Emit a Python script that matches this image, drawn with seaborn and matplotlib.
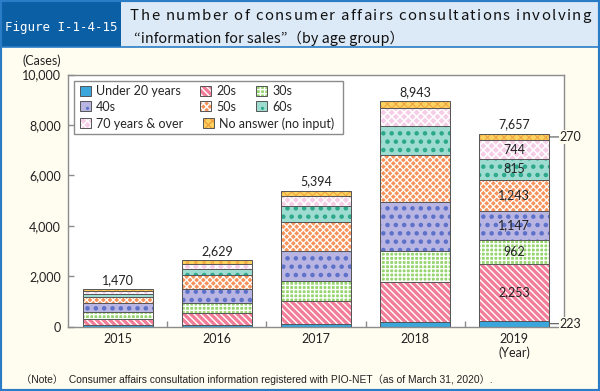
import numpy as np
import pandas as pd
import matplotlib
matplotlib.use("Agg")
import matplotlib.pyplot as plt
import matplotlib.patches as mpatches
from matplotlib.colors import to_rgba
from matplotlib.font_manager import FontProperties
from matplotlib.textpath import TextToPath
import seaborn as sns

# ---------------- data ----------------
years = ["2015", "2016", "2017", "2018", "2019"]
totals = [1470, 2629, 5394, 8943, 7657]
under20 = [50, 60, 100, 170, 223]
age20s = [260, 465, 915, 1600, 2253]
age30s = [267, 400, 795, 1245, 962]
age40s = [338, 580, 1190, 1910, 1147]
age50s = [270, 530, 1155, 1885, 1243]
age60s = [107, 265, 635, 1135, 815]
age70plus = [108, 180, 400, 730, 744]
no_answer = [70, 149, 204, 268, 270]
series_names = ["Under 20 years", "20s", "30s", "40s", "50s", "60s",
                "70 years & over", "No answer (no input)"]
yticks = [0, 2000, 4000, 6000, 8000, 10000]

# ---------------- style ----------------
CREAM = "#fffdf0"
EDGE = "#555555"
styles = {
    "Under 20 years":       ("#3aa6dc", None, "#3aa6dc", 1.0),
    "20s":                  ("#f27d98", "\\\\\\\\\\", "#ffffff", 1.0),
    "30s":                  ("#95d46e", "++++", "#ffffff", 1.0),
    "40s":                  ("#b9b5e2", "..", "#5b70c8", 2.0),
    "50s":                  ("#f7935a", "xxxxx", "#ffffff", 0.9),
    "60s":                  ("#9edcd2", "..", "#2ba78a", 2.0),
    "70 years & over":      ("#f5cde6", "xxxx", "#ffffff", 1.1),
    "No answer (no input)": ("#fbd25e", "xxxx", "#f0a040", 0.7),
}

sns.set_theme(style="white")
plt.rcParams["font.family"] = ["Lato", "DejaVu Sans"]
plt.rcParams["hatch.linewidth"] = 1.0

series = [under20, age20s, age30s, age40s, age50s, age60s, age70plus, no_answer]
df = pd.DataFrame({name: vals for name, vals in zip(series_names, series)})
df.insert(0, "Year", years)
cum = df[series_names].cumsum(axis=1)
cum.insert(0, "Year", years)

W, H = 600, 391
DPI = 100
fig = plt.figure(figsize=(6, 3.91), dpi=DPI, facecolor=CREAM)

def fx(px):
    return px / W

def fy(py):
    return 1 - py / H

# header
HB = 47
fig.patches.append(mpatches.Rectangle((0, fy(HB)), 1, HB / H, transform=fig.transFigure,
                                      facecolor="#dce9f7", edgecolor="none", zorder=0))
fig.patches.append(mpatches.Rectangle((0, fy(HB)), fx(121), HB / H, transform=fig.transFigure,
                                      facecolor="#0b5fa5", edgecolor="none", zorder=0))
fig.patches.append(mpatches.Rectangle((0, 0), 1, 1, transform=fig.transFigure, fill=False,
                                      edgecolor="#2a7cc7", linewidth=3, zorder=10))
fig.add_artist(plt.Line2D([0, 1], [fy(HB), fy(HB)], transform=fig.transFigure,
                          color="#2a7cc7", linewidth=1.2))

fig.text(fx(61), fy(27.5), "Figure I-1-4-15", color="white", ha="center", va="center",
         fontsize=9, family=["DejaVu Sans Mono"])

# tracked first title line
def tracked_text(s, x0, x1, y, size, family):
    prop = FontProperties(family=family, size=size)
    t2p = TextToPath()
    def wpx(sub):
        if not sub:
            return 0.0
        w, h, d = t2p.get_text_width_height_descent(sub, prop, ismath=False)
        return w * DPI / 72.0
    natural = wpx(s)
    track = (x1 - x0 - natural) / (len(s) - 1)
    for i, ch in enumerate(s):
        if ch == " ":
            continue
        xp = x0 + wpx(s[:i]) + i * track
        fig.text(fx(xp), fy(y), ch, ha="left", va="center", fontproperties=prop, color="#111")

tracked_text("The number of consumer affairs consultations involving", 130, 591, 16,
             10.8, "Noto Sans CJK JP")
fig.text(fx(134), fy(38), "“information for sales”（by age group）",
         ha="left", va="center", fontsize=10.4, family=["Noto Sans CJK JP"], color="#111")

# axes
ax = fig.add_axes([fx(68), fy(326.5), 496 / W, 252 / H])
ax.set_facecolor("white")

for name in reversed(series_names):
    face, hatch, hcol, hlw = styles[name]
    n0 = len(ax.patches)
    sns.barplot(x=cum["Year"], y=cum[name], order=years, color=face, saturation=1,
                width=0.705, errorbar=None, ax=ax, hatch=hatch,
                edgecolor=EDGE, linewidth=0.7)
    for p in ax.patches[n0:]:
        p._hatch_color = to_rgba(hcol)
        if hasattr(p, "set_hatch_linewidth"):
            p.set_hatch_linewidth(hlw)

ax.set_xlim(-0.5, 4.5)
ax.set_ylim(0, 10000)
ax.set_yticks(yticks)
ax.set_yticklabels([f"{v:,}" for v in yticks])
ax.set_xticks(range(len(years)))
ax.set_xticklabels(years)
ax.set_xticks([0.5, 1.5, 2.5, 3.5], minor=True)
ax.set_xlabel("")
ax.set_ylabel("")
ax.tick_params(axis="x", which="major", bottom=True, length=0, pad=5, labelsize=9, colors="#222")
ax.tick_params(axis="x", which="minor", bottom=True, direction="in", length=4, width=1, color="#8c8c8c")
ax.tick_params(axis="y", left=True, direction="in", length=4, width=1, color="#8c8c8c",
               pad=5, labelsize=9, labelcolor="#222")
for s in ax.spines.values():
    s.set_visible(True)
    s.set_color("#8c8c8c")
    s.set_linewidth(1.0)

# total labels
for i, t in enumerate(totals):
    ax.annotate(f"{t:,}", xy=(i, t), xytext=(0, 2.5), textcoords="offset points",
                ha="center", va="bottom", fontsize=9, color="#222")

# segment labels for 2019
last = len(years) - 1
base = 0
for name, vals in zip(series_names, series):
    v = vals[last]
    mid = base + v / 2
    if name in ("Under 20 years", "No answer (no input)"):
        ax.annotate(f"{v:,}", xy=(last + 0.3525, mid), xytext=(last + 0.455, mid),
                    textcoords="data", ha="left", va="center", fontsize=9, color="#222",
                    annotation_clip=False, zorder=6,
                    bbox=dict(boxstyle="square,pad=0.05", facecolor=CREAM, edgecolor="none"),
                    arrowprops=dict(arrowstyle="-", color="#555", lw=0.8, shrinkA=0, shrinkB=0))
    else:
        ax.text(last, mid, f"{v:,}", ha="center", va="center", fontsize=9, color="#222")
    base += v

# legend
def handle(name):
    face, hatch, hcol, hlw = styles[name]
    h = mpatches.Patch(facecolor=face, edgecolor=EDGE, hatch=hatch, linewidth=0.7, label=name)
    h._hatch_color = to_rgba(hcol)
    return h

leg_kw = dict(frameon=False, fontsize=9, handlelength=0.85, handleheight=0.85,
              handletextpad=0.45, columnspacing=1.55, labelspacing=0.3, borderpad=0,
              borderaxespad=0, bbox_transform=fig.transFigure, loc="upper left")
row12 = ["Under 20 years", "40s", "20s", "50s", "30s", "60s"]
leg1 = ax.legend(handles=[handle(n) for n in row12], ncol=3,
                 bbox_to_anchor=(fx(80), fy(85)), **leg_kw)
ax.add_artist(leg1)
row3 = ["70 years & over", "No answer (no input)"]
leg2 = ax.legend(handles=[handle(n) for n in row3], ncol=2,
                 bbox_to_anchor=(fx(80), fy(117)), **leg_kw)
ax.add_patch(mpatches.Rectangle((fx(74), fy(133.5)), 269 / W, 52 / H, transform=fig.transFigure,
                                facecolor="white", edgecolor="#8c8c8c", linewidth=1.0, zorder=4))

# extra texts
fig.text(fx(42), fy(61), "(Cases)", ha="center", va="center", fontsize=9, color="#222")
fig.text(fx(514.5), fy(353), "(Year)", ha="center", va="center", fontsize=9, color="#222")
fig.text(fx(21), fy(379.5),
         "（Note）  Consumer affairs consultation information registered with PIO-NET（as of March 31, 2020）.",
         ha="left", va="center", fontsize=7.4, family=["Liberation Sans", "Noto Sans CJK JP"],
         color="#222")

fig.savefig("out.png", dpi=DPI, facecolor=CREAM)
